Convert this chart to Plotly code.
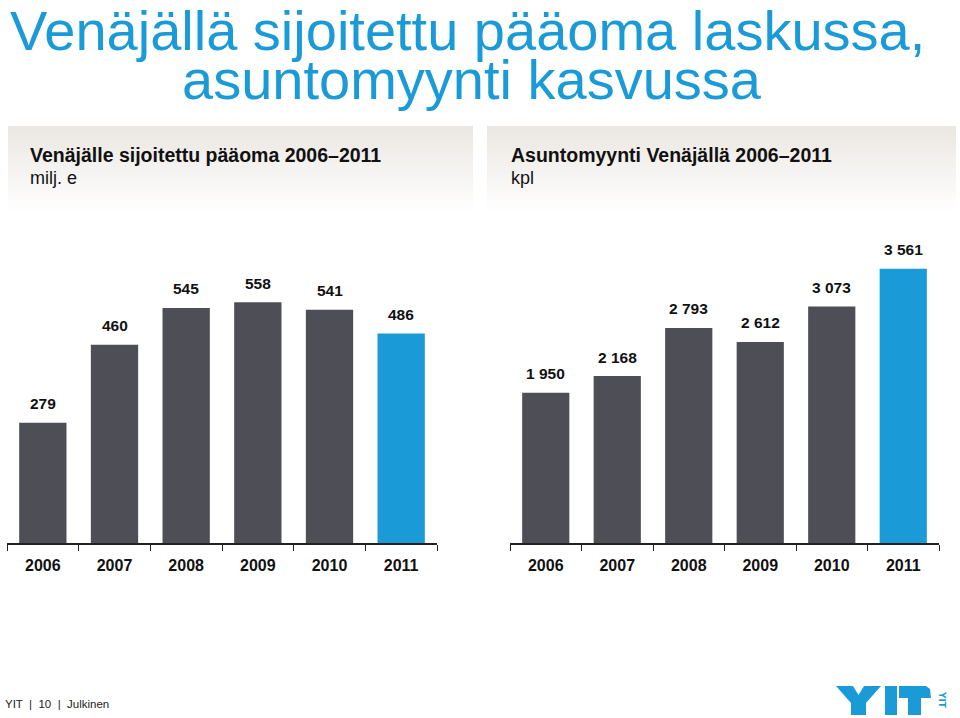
import plotly.graph_objects as go

W, H = 960, 718

years = ["2006", "2007", "2008", "2009", "2010", "2011"]
capital = [279, 460, 545, 558, 541, 486]
sales = [1950, 2168, 2793, 2612, 3073, 3561]

title_line1 = "Venäjällä sijoitettu pääoma laskussa,"
title_line2 = "asuntomyynti kasvussa"
left_title = "Venäjälle sijoitettu pääoma 2006–2011"
left_unit = "milj. e"
right_title = "Asuntomyynti Venäjällä 2006–2011"
right_unit = "kpl"
footer = "YIT  |  10  |  Julkinen"

GREY = "#4e4e57"
BLUE = "#1a9bd7"
colors = [GREY] * 5 + [BLUE]


def px(x):
    return x / W


def py(y):
    return 1 - y / H


def fmt(v):
    return f"{v:,}".replace(",", " ")


fig = go.Figure()
fig.add_trace(go.Bar(x=years, y=capital, marker_color=colors, marker_line_width=0,
                     xaxis="x", yaxis="y", hoverinfo="skip"))
fig.add_trace(go.Bar(x=years, y=sales, marker_color=colors, marker_line_width=0,
                     xaxis="x2", yaxis="y2", hoverinfo="skip"))

annotations = []
for xa, ya, vals in (("x", "y", capital), ("x2", "y2", sales)):
    for i, v in enumerate(vals):
        annotations.append(dict(x=i, y=v, xref=xa, yref=ya, text="<b>" + fmt(v) + "</b>",
                                showarrow=False, yshift=19, yanchor="middle",
                                font=dict(family="Liberation Sans", size=15.5, color="#111111")))

# titles
annotations += [
    dict(x=px(467), y=py(30), xref="paper", yref="paper", text=title_line1, showarrow=False,
         xanchor="center", yanchor="middle", font=dict(family="Liberation Sans", size=56, color=BLUE)),
    dict(x=px(472), y=py(79), xref="paper", yref="paper", text=title_line2, showarrow=False,
         xanchor="center", yanchor="middle", font=dict(family="Liberation Sans", size=56, color=BLUE)),
    dict(x=px(28), y=py(155), xref="paper", yref="paper", text="<b>" + left_title + "</b>", showarrow=False,
         xanchor="left", yanchor="middle", font=dict(family="Liberation Sans", size=19.5, color="#111111")),
    dict(x=px(28), y=py(178), xref="paper", yref="paper", text=left_unit, showarrow=False,
         xanchor="left", yanchor="middle", font=dict(family="Liberation Sans", size=18, color="#111111")),
    dict(x=px(509), y=py(155), xref="paper", yref="paper", text="<b>" + right_title + "</b>", showarrow=False,
         xanchor="left", yanchor="middle", font=dict(family="Liberation Sans", size=19.5, color="#111111")),
    dict(x=px(509), y=py(178), xref="paper", yref="paper", text=right_unit, showarrow=False,
         xanchor="left", yanchor="middle", font=dict(family="Liberation Sans", size=18, color="#111111")),
    dict(x=px(3), y=py(704), xref="paper", yref="paper", text=footer, showarrow=False,
         xanchor="left", yanchor="middle", font=dict(family="Liberation Sans", size=11.5, color="#222222")),
    dict(x=px(942), y=py(700), xref="paper", yref="paper", text="<b>YIT</b>", showarrow=False,
         textangle=90, xanchor="center", yanchor="middle", font=dict(family="DejaVu Sans", size=9, color=BLUE)),
]

# header gradient boxes
shapes = []
n = 30
top, bottom = 126, 214
c0 = (235, 231, 226)
for i in range(n):
    t = i / (n - 1)
    col = tuple(int(round(c0[k] + (255 - c0[k]) * t)) for k in range(3))
    y0 = top + (bottom - top) * i / n
    y1 = top + (bottom - top) * (i + 1) / n + 0.6
    for x0, x1 in ((8, 473), (487, 956)):
        shapes.append(dict(type="rect", xref="paper", yref="paper", layer="below",
                           x0=px(x0), x1=px(x1), y0=py(y1), y1=py(y0),
                           fillcolor="rgb(%d,%d,%d)" % col, line=dict(width=0)))


# logo drawn as shapes (pixel polygons converted to paper coords)
def poly(pts):
    return "M " + " L ".join(f"{px(a):.5f},{py(b):.5f}" for a, b in pts) + " Z"


logo_polys = [
    [(836, 686), (853, 686), (858.5, 695), (864, 686), (881, 686), (866, 703), (866, 715), (851, 715), (851, 703)],
    [(885, 686), (897, 686), (897, 715), (885, 715)],
    [(899, 686), (926, 686), (930, 689), (931, 698), (921, 698), (921, 715), (908, 715), (908, 698), (899, 698)],
]
for p in logo_polys:
    shapes.append(dict(type="path", xref="paper", yref="paper", path=poly(p),
                       fillcolor=BLUE, line=dict(width=0)))

ydom = [py(543), py(220)]
axis_common = dict(type="category", showgrid=False, showline=True, linecolor="#222222", linewidth=1.5,
                   ticks="outside", ticklen=6, tickwidth=1.2, tickcolor="#222222", tickson="boundaries",
                   tickfont=dict(family="Liberation Sans", size=16, color="#111111", weight="bold"),
                   ticklabelstandoff=7, fixedrange=True, range=[-0.5, 5.5])
yaxis_common = dict(showgrid=False, showline=False, showticklabels=False, zeroline=False,
                    fixedrange=True, domain=ydom)

fig.update_layout(
    width=W, height=H, margin=dict(l=0, r=0, t=0, b=0),
    paper_bgcolor="white", plot_bgcolor="rgba(0,0,0,0)",
    showlegend=False, bargap=0.34,
    xaxis=dict(domain=[px(7), px(437)], anchor="y", **axis_common),
    yaxis=dict(range=[0, 749], anchor="x", **yaxis_common),
    xaxis2=dict(domain=[px(510), px(939)], anchor="y2", **axis_common),
    yaxis2=dict(range=[0, 4195], anchor="x2", **yaxis_common),
    annotations=annotations, shapes=shapes,
)

fig.write_html("out.html")
